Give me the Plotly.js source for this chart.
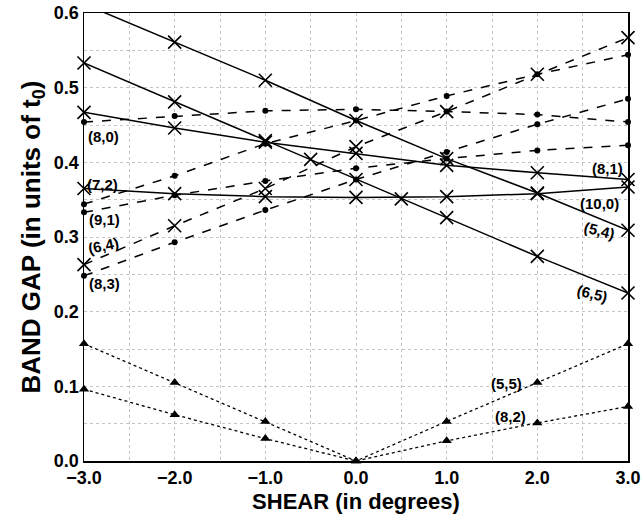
<!DOCTYPE html>
<html>
<head>
<meta charset="utf-8">
<script src="https://cdn.plot.ly/plotly-3.0.1.min.js"></script>
<style>html,body{margin:0;padding:0;background:#fff;}#chart{width:644px;height:518px;}</style>
</head>
<body>
<div id="chart"></div>
<script>
// Shear values (degrees)
const shear = [-3, -2, -1, 0, 1, 2, 3];
const shear65 = [-3, -2, -1, -0.5, 0, 0.5, 1, 2, 3];

// Solid lines (X markers)
const gap54 = [0.612, 0.561, 0.510, 0.456, 0.405, 0.359, 0.309];
const gap65 = [0.533, 0.481, 0.429, 0.404, 0.377, 0.351, 0.326, 0.274, 0.225];
const gap81 = [0.467, 0.446, 0.427, 0.412, 0.396, 0.386, 0.377];
const gap100 = [0.365, 0.358, 0.354, 0.353, 0.354, 0.358, 0.367];

// Dashed lines
const gap80 = [0.454, 0.462, 0.469, 0.471, 0.468, 0.464, 0.454];   // dots
const gap64 = [0.263, 0.315, 0.365, 0.421, 0.468, 0.518, 0.567];   // X
const gap72 = [0.344, 0.382, 0.425, 0.456, 0.489, 0.518, 0.544];   // dots
const gap83 = [0.248, 0.293, 0.336, 0.377, 0.414, 0.451, 0.485];   // dots
const gap91 = [0.333, 0.356, 0.375, 0.392, 0.405, 0.416, 0.423];   // dots

// Dotted lines (triangles)
const gap55 = [0.157, 0.105, 0.053, 0.0, 0.053, 0.105, 0.157];
const gap82 = [0.096, 0.062, 0.030, 0.0, 0.027, 0.051, 0.073];

// Curve labels
const labelText = ['(8,0)', '(7,2)', '(9,1)', '(6,4)', '(8,3)', '(8,1)', '(10,0)', '(5,4)', '(6,5)', '(5,5)', '(8,2)'];
const labelX = [-2.79, -2.80, -2.77, -2.79, -2.77, 2.77, 2.69, 2.69, 2.61, 1.66, 1.70];
const labelY = [0.434, 0.370, 0.323, 0.288, 0.238, 0.392, 0.345, 0.309, 0.225, 0.104, 0.059];
const labelAngle = [0, 0, 0, -12, 0, 0, 0, 14, 14, 0, 0];

const xSolid = {symbol: 'x-thin-open', size: 13, color: '#000', line: {width: 1.6, color: '#000'}};
const dot = {symbol: 'circle', size: 6, color: '#000'};
const tri = {symbol: 'triangle-up', size: 9, color: '#000'};

function tr(x, y, dash, marker, w, mode, clip) {
  return {x: x, y: y, type: 'scatter', mode: mode || 'lines+markers',
    line: {color: '#000', width: w || 1.5, dash: dash}, marker: marker,
    showlegend: false, cliponaxis: clip === undefined ? false : clip, hoverinfo: 'x+y'};
}

const data = [
  tr(shear, gap80, 'dash', dot),
  tr(shear, gap64, 'dash', xSolid),
  tr(shear, gap72, 'dash', dot),
  tr(shear, gap83, 'dash', dot),
  tr(shear, gap91, 'dash', dot),
  tr(shear, gap54, 'solid', xSolid, 1.5, 'lines', true),
  tr(shear.slice(1), gap54.slice(1), 'solid', xSolid, 1.5, 'markers', false),
  tr(shear65, gap65, 'solid', xSolid),
  tr(shear, gap81, 'solid', xSolid),
  tr(shear, gap100, 'solid', xSolid),
  tr(shear, gap55, 'dot', tri, 1.3),
  tr(shear, gap82, 'dot', tri, 1.3)
];

const annotations = labelText.map((t, i) => ({
  x: labelX[i], y: labelY[i], text: '<b>' + t + '</b>', showarrow: false, textangle: labelAngle[i],
  font: {family: 'Liberation Sans, Arial, sans-serif', size: 15, color: '#000'},
  xanchor: 'center', yanchor: 'middle'
}));

const layout = {
  width: 644, height: 518,
  margin: {l: 84, r: 16, t: 13, b: 57},
  paper_bgcolor: '#fff', plot_bgcolor: '#fff',
  font: {family: 'Liberation Sans, Arial, sans-serif', color: '#000'},
  xaxis: {
    range: [-3, 3], dtick: 1, tick0: -3, tickformat: '.1f',
    showgrid: true, gridcolor: '#c4c4c4', griddash: 'dot', gridwidth: 1, zeroline: false,
    showline: true, linecolor: '#000', linewidth: 1.5, mirror: true,
    ticks: '',
    tickfont: {size: 18, weight: 'bold', color: '#000'},
    minor: {dtick: 0.5, showgrid: true, gridcolor: '#c4c4c4', griddash: 'dot', gridwidth: 1},
    title: {text: 'SHEAR (in degrees)', standoff: 6, font: {size: 22, weight: 'bold', color: '#000'}}
  },
  yaxis: {
    range: [0, 0.6], dtick: 0.1, tick0: 0, tickformat: '.1f',
    showgrid: true, gridcolor: '#c4c4c4', griddash: 'dot', gridwidth: 1, zeroline: false,
    showline: true, linecolor: '#000', linewidth: 1.5, mirror: true,
    ticks: '',
    tickfont: {size: 18, weight: 'bold', color: '#000'},
    minor: {dtick: 0.05, showgrid: true, gridcolor: '#c4c4c4', griddash: 'dot', gridwidth: 1},
    title: {text: 'BAND GAP (in units of t<sub>0</sub>)', standoff: 6, font: {size: 26, weight: 'bold', color: '#000'}}
  },
  annotations: annotations
};

Plotly.newPlot('chart', data, layout, {displayModeBar: false, staticPlot: true});
</script>
</body>
</html>
